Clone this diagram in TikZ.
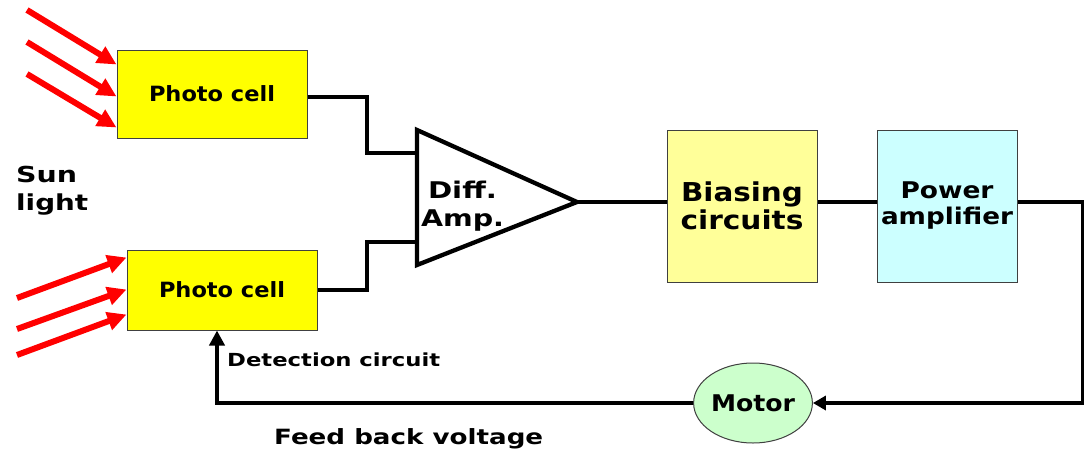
\documentclass[tikz,border=0pt]{standalone}
\usepackage{fontspec}
\setmainfont{DejaVu Sans}
\usetikzlibrary{arrows.meta,calc,shapes.geometric}
\newcommand{\tw}[2]{\resizebox{#1pt}{\height}{#2}}
\definecolor{pcyel}{HTML}{FFFF00}
\definecolor{biasyel}{HTML}{FFFF99}
\definecolor{powcyan}{HTML}{CCFFFF}
\definecolor{motgreen}{HTML}{CCFFCC}
\begin{document}
\begin{tikzpicture}[x=1pt,y=-1pt,
  box/.style={draw=black!75,line width=1pt,inner sep=0pt,align=center},
  wire/.style={line width=4.3pt},
  sunray/.style={red,line width=6pt,-{Triangle[length=19pt,width=18pt]}},
  fbarrow/.style={line width=4.3pt,-{Triangle[length=15pt,width=15pt]}},
  lbl/.style={inner sep=0pt}]
\useasboundingbox (0,0) rectangle (1084,450);

% blocks
\node[box,fill=pcyel,minimum width=190pt,minimum height=88pt,font=\fontsize{21}{25}\selectfont\bfseries] (pc1) at (212,94) {\tw{126}{Photo cell}};
\node[box,fill=pcyel,minimum width=190pt,minimum height=80pt,font=\fontsize{21}{25}\selectfont\bfseries] (pc2) at (222,290) {\tw{126}{Photo cell}};
\node[box,fill=biasyel,minimum width=150pt,minimum height=152pt,font=\fontsize{26}{28}\selectfont\bfseries] (bias) at (742,206) {\tw{122}{Biasing}\\\tw{123}{circuits}};
\node[box,fill=powcyan,minimum width=140pt,minimum height=152pt,font=\fontsize{23}{26}\selectfont\bfseries] (pow) at (947,206) {\tw{93}{Power}\\\tw{132}{amplifier}};
\node[box,ellipse,fill=motgreen,minimum width=110pt,minimum height=80pt,font=\fontsize{23}{25}\selectfont\bfseries] (motor) at (753,403) {\tw{84}{Motor}};

% differential amplifier
\coordinate (tl) at (417,130);
\coordinate (bl) at (417,265);
\coordinate (apex) at (577,202);
\coordinate (in1) at (417,153);
\coordinate (in2) at (417,242);
\draw[wire,line join=miter] (tl) -- (apex) -- (bl) -- cycle;
\node[lbl,align=center,font=\fontsize{23}{28}\selectfont\bfseries] (amp) at (462.5,206) {\tw{69}{Diff.}\\\tw{83}{Amp.}};

% input wiring
\coordinate (j1) at (367,97);
\coordinate (j2) at (367,153);
\coordinate (j3) at (367,290);
\coordinate (j4) at (367,242);
\draw[wire] ([yshift=-3pt]pc1.east) -- (j1) -- (j2) -- (in1);
\draw[wire] (pc2.east) -- (j3) -- (j4) -- (in2);

% forward path
\draw[wire] (apex) -- (apex -| bias.west);
\draw[wire] (apex -| bias.east) -- (apex -| pow.west);
\coordinate (r1) at (1083,202);
\coordinate (r2) at (1083,403);
\draw[wire,-{Triangle[length=13pt,width=14pt]}] (apex -| pow.east) -- (r1) -- (r2) -- (motor.east);

% feedback
\coordinate (f1) at (217,403);
\draw[fbarrow] (motor.west) -- (f1) -- (f1 |- pc2.south);

% sun rays
\coordinate (s1) at (27,10);
\coordinate (s2) at (27,42);
\coordinate (s3) at (27,74);
\draw[sunray] (s1) -- ([yshift=-15pt]pc1.north west);
\draw[sunray] (s2) -- ([yshift=-47pt]pc1.north west);
\draw[sunray] (s3) -- ([yshift=-78pt]pc1.north west);
\coordinate (t1) at (17,298);
\coordinate (t2) at (17,329);
\coordinate (t3) at (17,355);
\draw[sunray] (t1) -- ([yshift=-8pt]pc2.north west);
\draw[sunray] (t2) -- ([yshift=-40pt]pc2.north west);
\draw[sunray] (t3) -- ([yshift=-65pt]pc2.north west);

% labels
\node[lbl,align=left,anchor=north west,font=\fontsize{22}{28}\selectfont\bfseries] (sun) at (16,166) {\tw{61}{Sun}\\\tw{72}{light}};
\node[lbl,anchor=base west,font=\fontsize{18}{20}\selectfont\bfseries] (det) at (227,366) {\tw{213}{Detection circuit}};
\node[lbl,anchor=base west,font=\fontsize{21}{23}\selectfont\bfseries] (fbv) at (274,444) {\tw{269}{Feed back voltage}};
\end{tikzpicture}
\end{document}
